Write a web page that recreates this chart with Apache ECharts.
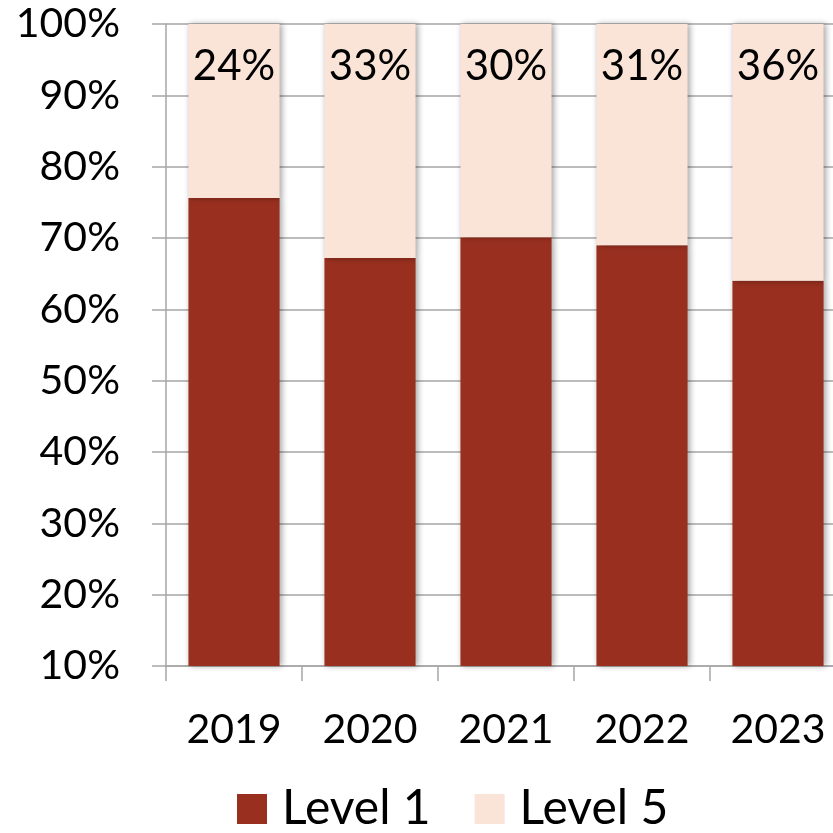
<!DOCTYPE html>
<html>
<head>
<meta charset="utf-8">
<script src="https://cdn.jsdelivr.net/npm/echarts@6/dist/echarts.min.js"></script>
<style>
  html, body { margin: 0; padding: 0; background: #fff; }
  #chart { width: 833px; height: 833px; }
</style>
</head>
<body>
<div id="chart"></div>
<script>
// categories and the two stacked shares (percent)
const years = ['2019', '2020', '2021', '2022', '2023'];
const level1 = [75.6, 67.2, 70.1, 69.0, 64.0];
const level5 = [24.4, 32.8, 29.9, 31.0, 36.0];

const gray = '#a6a6a6';
const font = 'Lato';

const chart = echarts.init(document.getElementById('chart'));

const barShadow = {
    shadowBlur: 6,
    shadowColor: 'rgba(0,0,0,0.35)',
    shadowOffsetX: 2,
    shadowOffsetY: 0
};

const option = {
    animation: false,
    grid: {
        left: 166,
        top: 24,
        right: -13,
        bottom: 167,
        containLabel: false,
        outerBoundsMode: 'none'
    },
    legend: {
        bottom: -5,
        left: 232,
        itemWidth: 30,
        itemHeight: 30,
        itemGap: 44,
        icon: 'rect',
        textStyle: {
            fontFamily: font,
            fontSize: 48,
            color: '#000',
            padding: [0, 0, 0, 10]
        },
        data: ['Level 1', 'Level 5']
    },
    xAxis: {
        type: 'category',
        data: years,
        axisLine: { show: true, lineStyle: { color: gray, width: 1.5 } },
        axisTick: { show: true, length: 15, lineStyle: { color: gray, width: 1.5 } },
        axisLabel: {
            margin: 43,
            fontFamily: font,
            fontSize: 41,
            color: '#000'
        }
    },
    yAxis: {
        type: 'value',
        min: 10,
        max: 100,
        interval: 10,
        axisLine: { show: true, lineStyle: { color: gray, width: 1.5 } },
        axisTick: { show: true, length: 14, lineStyle: { color: gray, width: 1.5 } },
        splitLine: { show: true, lineStyle: { color: gray, width: 1.5 } },
        axisLabel: {
            margin: 46,
            fontFamily: font,
            fontSize: 41,
            color: '#000',
            formatter: '{value}%'
        }
    },
    series: [
        {
            name: 'Level 1',
            type: 'bar',
            stack: 'total',
            barCategoryGap: '33%',
            data: level1,
            itemStyle: Object.assign({ color: '#99301f' }, barShadow)
        },
        {
            name: 'Level 5',
            type: 'bar',
            stack: 'total',
            barCategoryGap: '33%',
            data: level5,
            itemStyle: Object.assign({ color: '#fae3d7' }, barShadow),
            label: {
                show: true,
                position: 'insideTop',
                distance: 21,
                fontFamily: font,
                fontSize: 42,
                color: '#000',
                formatter: function (p) {
                    return Math.round(p.value) + '%';
                }
            }
        }
    ]
};

chart.setOption(option);
</script>
</body>
</html>
